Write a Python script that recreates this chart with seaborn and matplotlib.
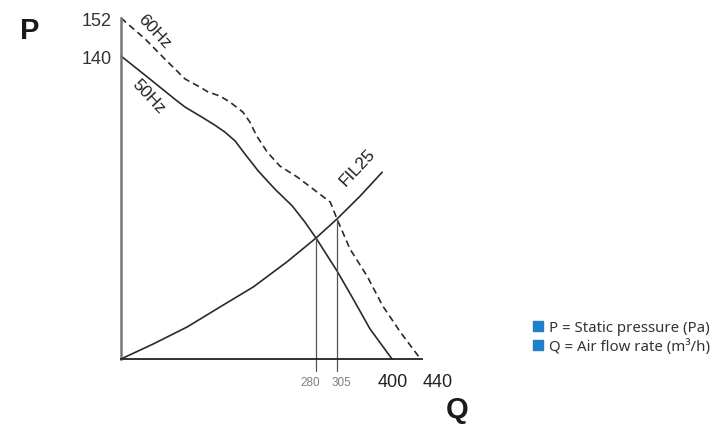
import numpy as np
import pandas as pd
import seaborn as sns
from matplotlib import pyplot as plt
from matplotlib.lines import Line2D

# curve points (Q in m3/h, P in Pa)
q_50hz = [0, 39, 77.5, 92, 116, 135, 149, 164, 178, 197, 221, 246, 264, 280, 305, 333, 362, 400]
p_50hz = [140, 130, 120, 116.4, 111.8, 108, 104.9, 100.7, 94.7, 86.9, 78.5, 70.7, 63.3, 55.9, 40.7, 27.7, 13.9, 0]

q_60hz = [0, 34.5, 63, 92, 113, 125, 142, 156.5, 175, 185, 195, 210, 228, 253, 276,
          297, 305, 327.5, 357, 384, 411, 435, 440]
p_60hz = [152, 145.4, 138.6, 129.4, 125.7, 123.4, 121.5, 118.7, 114.1, 109.5, 103, 95.6, 89.2, 84.1, 78.5,
          72.5, 64.7, 50.8, 38.3, 24.5, 12.5, 1.4, 0]

q_fil = [0, 46, 95, 142, 190, 238, 280, 305, 345, 383]
p_fil = [0, 6.9, 14.8, 24, 33.3, 44.8, 55.9, 64.7, 75.3, 86.3]

x_ticks = [280, 305, 400, 440]
y_ticks = [140, 152]
work_points = [(280, 55.9), (305, 64.7)]

legend_labels = ["P = Static pressure (Pa)", "Q = Air flow rate (m\u00b3/h)"]

# the drawing is schematic: axis spacing is not uniform, so use piecewise scales
q_knots = [-100, 0, 280, 305, 400, 440, 600]
q_pos = [-69.6, 0, 195, 216, 271, 301, 421]
p_knots = [-50, 0, 140, 152, 200]
p_pos = [-108, 0, 303, 341, 493]


def q_fwd(v):
    return np.interp(v, q_knots, q_pos)


def q_inv(v):
    return np.interp(v, q_pos, q_knots)


def p_fwd(v):
    return np.interp(v, p_knots, p_pos)


def p_inv(v):
    return np.interp(v, p_pos, p_knots)


sns.set_style("white")
plt.rcParams["font.family"] = ["Liberation Sans", "DejaVu Sans"]

fig = plt.figure(figsize=(7.19, 4.27), dpi=100)
ax = fig.add_axes([121 / 719, 67 / 427, 301 / 719, 341 / 427])
ax.set_xscale("function", functions=(q_fwd, q_inv))
ax.set_yscale("function", functions=(p_fwd, p_inv))
ax.set_xlim(0, 440)
ax.set_ylim(0, 152)

line_col = "#2a2a2a"
sns.lineplot(x=q_50hz, y=p_50hz, ax=ax, color=line_col, lw=1.2, clip_on=False)
sns.lineplot(x=q_60hz, y=p_60hz, ax=ax, color=line_col, lw=1.2,
             linestyle=(0, (4, 2.5)), clip_on=False)
sns.lineplot(x=q_fil, y=p_fil, ax=ax, color=line_col, lw=1.2, clip_on=False)

# duty point drop lines
for q, p in work_points:
    ax.plot([q, q], [-5.5, p], color="#555555", lw=0.9, clip_on=False)

ax.set_xlim(0, 440)
ax.set_ylim(0, 152)

sns.despine(ax=ax)
ax.spines["left"].set_color("#777777")
ax.spines["left"].set_linewidth(1.8)
ax.spines["bottom"].set_color("#222222")
ax.spines["bottom"].set_linewidth(1.3)
ax.set_xticks([])
ax.set_xticks([], minor=True)
ax.set_yticks(y_ticks)
ax.set_yticklabels([str(v) for v in y_ticks])
ax.set_yticks([], minor=True)
ax.tick_params(axis="y", length=0, pad=6.5, labelsize=13, labelcolor="#333333")

# tick values as drawn in the schematic (labels sit slightly off their lines)
x_offsets = {280: -4.3, 305: 3, 400: 0.7, 440: 11}
for q in x_ticks:
    small = q in (280, 305)
    ax.annotate(str(q), xy=(q, 0), xycoords=("data", "axes fraction"),
                xytext=(x_offsets[q], -16.5), textcoords="offset points",
                ha="center", va="center", fontsize=8.5 if small else 13,
                color="#808080" if small else "#222222", annotation_clip=False)

ax.text(47.4, 148, "60Hz", rotation=-47, ha="center", va="center", fontsize=12.5, color="#222222")
ax.text(38.8, 121.5, "50Hz", rotation=-47, ha="center", va="center", fontsize=12.5, color="#222222")
ax.text(341, 88.7, "FIL25", rotation=47, ha="center", va="center", fontsize=12.5, color="#222222")

fig.text(30 / 719, 1 - 31 / 427, "P", fontsize=21, fontweight="bold", ha="center", va="center", color="#1a1a1a")
fig.text(457 / 719, 1 - 410 / 427, "Q", fontsize=21, fontweight="bold", ha="center", va="center", color="#1a1a1a")

handles = [Line2D([], [], marker="s", ls="", color="#1f7fc8", markersize=7) for _ in legend_labels]
fig.legend(handles, legend_labels, loc="center left", bbox_to_anchor=(521 / 719, 1 - 338 / 427),
           frameon=False, handletextpad=0.15, labelspacing=0.2, borderpad=0, handlelength=1.2,
           prop={"family": ["Noto Sans", "DejaVu Sans"], "size": 10.8}, labelcolor="#333333")

fig.savefig("out.png", dpi=100)
